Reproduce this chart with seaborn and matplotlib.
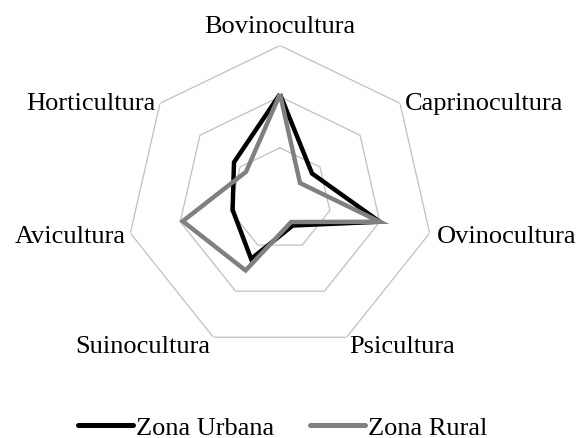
import numpy as np
import pandas as pd
import seaborn as sns
import matplotlib.pyplot as plt

categories = ['Bovinocultura', 'Caprinocultura', 'Ovinocultura', 'Psicultura',
              'Suinocultura', 'Avicultura', 'Horticultura']
urbana = [41, 16, 40, 11.5, 26, 19, 23]
rural = [41, 10, 40, 10, 31, 39, 17]
rings = [20, 40, 60]

sns.set_theme(style='white')
plt.rcParams['font.family'] = ['Liberation Serif', 'DejaVu Serif']
plt.rcParams['text.color'] = 'black'

n = len(categories)
angles = list(np.linspace(0, 2 * np.pi, n, endpoint=False))
ang_closed = angles + angles[:1]

df = pd.DataFrame({
    'angle': ang_closed * 2,
    'valor': urbana + urbana[:1] + rural + rural[:1],
    'zona': ['Zona Urbana'] * (n + 1) + ['Zona Rural'] * (n + 1),
})

fig = plt.figure(figsize=(5.8, 4.39), dpi=100)
ax = fig.add_axes([0.2181, 0.1948, 0.5293, 0.6993], projection='polar')
ax.set_theta_offset(np.pi / 2)
ax.set_theta_direction(-1)

# heptagon grid
for r in rings:
    ax.plot(ang_closed, [r] * (n + 1), color='#c0c0c0', lw=0.9, zorder=1)

sns.lineplot(data=df, x='angle', y='valor', hue='zona', sort=False,
             estimator=None,
             palette={'Zona Urbana': 'black', 'Zona Rural': '#808080'},
             lw=3.2, ax=ax, legend=False)
for line in ax.lines[len(rings):]:
    line.set_solid_joinstyle('miter')
    line.set_solid_capstyle('butt')

ax.set_ylim(0, 60)
ax.grid(False)
ax.spines['polar'].set_visible(False)
ax.set_xticks([])
ax.set_yticks([])
ax.set_xlabel('')
ax.set_ylabel('')

# label offsets (pixels) from each outer vertex
offsets = [(0, 13, 'center', 'baseline'),
           (5, 0, 'left', 'center'),
           (7, -3, 'left', 'center'),
           (3, -9, 'left', 'center'),
           (-3, -9, 'right', 'center'),
           (-5, -3, 'right', 'center'),
           (-5, 0, 'right', 'center')]
for ang, cat, (dx, dy, ha, va) in zip(angles, categories, offsets):
    ax.annotate(cat, xy=(ang, rings[-1]), xytext=(dx, dy),
                textcoords='offset pixels', ha=ha, va=va, fontsize=19,
                annotation_clip=False)

handles = [plt.Line2D([], [], color='black', lw=3.6, solid_capstyle='round'),
           plt.Line2D([], [], color='#808080', lw=3.6, solid_capstyle='round')]
fig.legend(handles, ['Zona Urbana', 'Zona Rural'], loc='center',
           bbox_to_anchor=(0.487, 0.024), ncol=2, frameon=False, fontsize=19,
           handlelength=2.1, handletextpad=0.1, columnspacing=1.35,
           borderpad=0.0, borderaxespad=0.0)

fig.savefig('out.png', dpi=100)
